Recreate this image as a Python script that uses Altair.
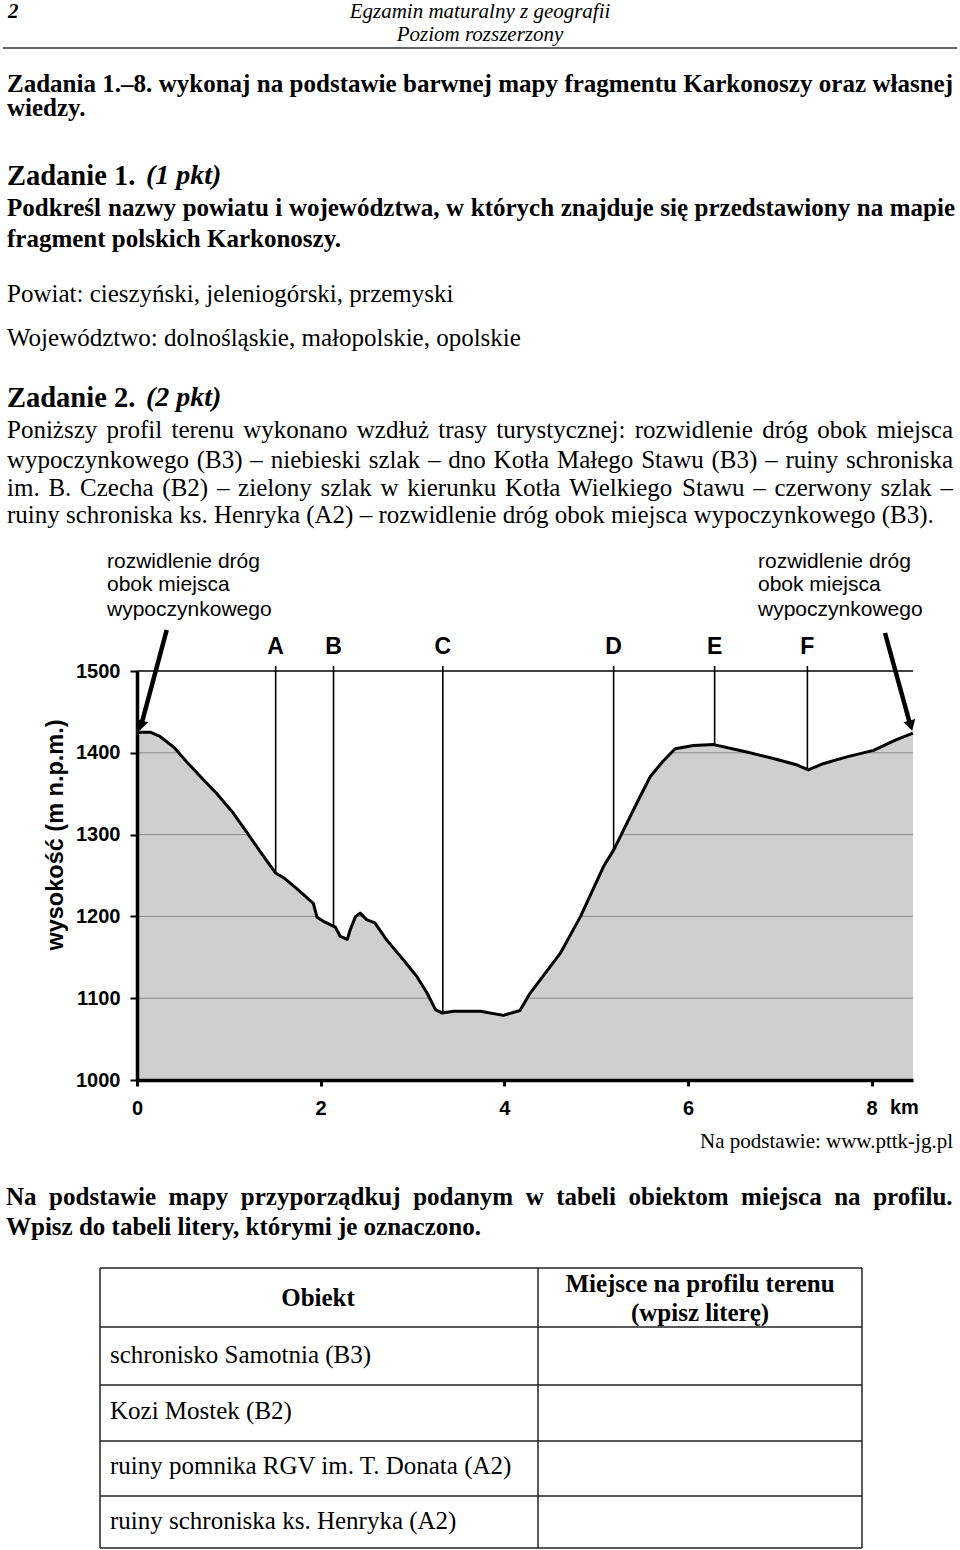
import altair as alt
import pandas as pd

# ---------------- data ----------------
profile_km = [0.00, 0.15, 0.25, 0.40, 0.54, 0.69, 0.87, 1.05, 1.20, 1.38, 1.51, 1.60,
              1.74, 1.92, 1.96, 2.03, 2.16, 2.21, 2.29, 2.32, 2.38, 2.43, 2.50, 2.59,
              2.72, 2.90, 3.05, 3.16, 3.25, 3.32, 3.45, 3.74, 3.99, 4.17, 4.28, 4.61,
              4.83, 5.08, 5.19, 5.26, 5.44, 5.59, 5.73, 5.86, 6.06, 6.28, 6.64, 6.93,
              7.19, 7.31, 7.48, 7.73, 8.02, 8.27, 8.45]
profile_elev = [1425, 1425, 1420, 1407, 1389, 1371, 1350, 1326, 1302, 1273, 1253, 1247,
                1234, 1216, 1199, 1194, 1187, 1176, 1172, 1183, 1200, 1204, 1196, 1192,
                1171, 1147, 1126, 1106, 1086, 1082, 1084, 1084, 1079, 1085, 1106, 1155,
                1200, 1261, 1281, 1297, 1338, 1371, 1390, 1405, 1409, 1410, 1401, 1393,
                1385, 1379, 1387, 1395, 1403, 1416, 1424]
marker_letters = ["A", "B", "C", "D", "E", "F"]
marker_km = [1.51, 2.14, 3.33, 5.19, 6.29, 7.30]
marker_elev = [1253, 1188, 1082, 1281, 1410, 1379]
y_ticks = [1000, 1100, 1200, 1300, 1400, 1500]
x_ticks = [0, 2, 4, 6, 8]
grid_vals = [1100, 1200, 1300, 1400]
KM_MAX = 8.45
ELEV_MIN, ELEV_MAX = 1000, 1500

table_rows = ["schronisko Samotnia (B3)", "Kozi Mostek (B2)",
              "ruiny pomnika RGV im. T. Donata (A2)", "ruiny schroniska ks. Henryka (A2)"]

# ---------------- layout ----------------
X0, Y0 = 137, 671          # plot origin on the page
W, H = 776, 409            # plot area
kx = W / KM_MAX
ey = H / (ELEV_MAX - ELEV_MIN)


def to_km(X):
    return (X - X0) / kx


def to_elev(Y):
    return ELEV_MAX - (Y - Y0) / ey


xs = alt.Scale(domain=[0, KM_MAX], nice=False, zero=False)
ys = alt.Scale(domain=[ELEV_MIN, ELEV_MAX], nice=False, zero=False)

SERIF = "Liberation Serif"
SANS = "Liberation Sans"

# Times-compatible advance widths (per 1000 em), used only to justify lines
_REG = dict(zip(" ():,-.", [250, 333, 333, 278, 250, 333, 250]))
_BOLD = dict(zip(" ():,-.", [250, 333, 333, 333, 250, 333, 250]))
_up = "ABCDEFGHIJKLMNOPQRSTUVWXYZ"
_lo = "abcdefghijklmnopqrstuvwxyz"
_REG.update(zip(_up, [722, 667, 667, 722, 611, 556, 722, 722, 333, 389, 722, 611, 889,
                      722, 722, 556, 722, 667, 556, 611, 722, 722, 944, 722, 722, 611]))
_REG.update(zip(_lo, [444, 500, 444, 500, 444, 333, 500, 500, 278, 278, 500, 278, 778,
                      500, 500, 500, 500, 333, 389, 278, 500, 500, 722, 500, 500, 444]))
_BOLD.update(zip(_up, [722, 667, 722, 722, 667, 611, 778, 778, 389, 500, 778, 667, 944,
                       722, 778, 611, 778, 722, 556, 667, 722, 722, 1000, 722, 722, 667]))
_BOLD.update(zip(_lo, [500, 556, 444, 556, 444, 333, 500, 556, 278, 333, 556, 278, 833,
                       556, 500, 556, 556, 444, 389, 333, 556, 500, 722, 500, 500, 444]))
_MAP = {"ą": "a", "ę": "e", "ć": "c", "ł": "l", "ń": "n", "ó": "o", "ś": "s", "ź": "z",
        "ż": "z", "Ł": "L", "Ś": "S", "Ż": "Z"}


def tw(s, table, size):
    return sum(table.get(_MAP.get(c, c), 500) for c in s) / 1000 * size


def justify(line, left, right, y, table, size):
    words = line.split(" ")
    widths = [tw(w, table, size) for w in words]
    gap = (right - left - sum(widths)) / (len(words) - 1)
    rows, x = [], left
    for w, wd in zip(words, widths):
        rows.append((x, y, w))
        x += wd + gap
    return rows


def text_layer(rows, font, size, weight="normal", style="normal", align="left", angle=0):
    df = pd.DataFrame(rows, columns=["X", "Y", "t"])
    df["x"] = df["X"].map(to_km)
    df["y"] = df["Y"].map(to_elev)
    return alt.Chart(df).mark_text(
        font=font, fontSize=size, fontWeight=weight, fontStyle=style,
        align=align, baseline="middle", angle=angle, color="black"
    ).encode(x=alt.X("x:Q", scale=xs), y=alt.Y("y:Q", scale=ys), text="t:N")


def rule_layer(rows, width, color="black"):
    df = pd.DataFrame(rows, columns=["X1", "Y1", "X2", "Y2"])
    df["x"] = df["X1"].map(to_km)
    df["x2"] = df["X2"].map(to_km)
    df["y"] = df["Y1"].map(to_elev)
    df["y2"] = df["Y2"].map(to_elev)
    return alt.Chart(df).mark_rule(color=color, strokeWidth=width, strokeCap="butt").encode(
        x=alt.X("x:Q", scale=xs), x2="x2:Q", y=alt.Y("y:Q", scale=ys), y2="y2:Q")


prof = pd.DataFrame({"km": profile_km, "elev": profile_elev})

x_axis = alt.Axis(values=x_ticks, format="d", title=None, grid=False, labelFont=SANS,
                  labelFontWeight="bold", labelFontSize=20, labelColor="black",
                  domainColor="black", domainWidth=3.5, tickColor="black",
                  tickWidth=3, tickSize=6, labelPadding=12, labelFlush=False,
                  labelOverlap=False, zindex=1)
y_axis = alt.Axis(values=y_ticks, format="d", title=None, grid=False, labelFont=SANS,
                  labelFontWeight="bold", labelFontSize=20, labelColor="black",
                  domainColor="black", domainWidth=3.5, tickColor="black",
                  tickWidth=2, tickSize=7, labelPadding=10, labelFlush=False,
                  labelOverlap=False, zindex=1)

gray = alt.Chart(prof).mark_area(color="#cfcfcf", opacity=1).encode(
    x=alt.X("km:Q", scale=xs, axis=x_axis),
    y=alt.Y("elev:Q", scale=ys, axis=y_axis),
    y2=alt.datum(ELEV_MIN))

grid = alt.Chart(pd.DataFrame({"g": grid_vals})).mark_rule(
    color="#8a8a8a", strokeWidth=1).encode(
    y=alt.Y("g:Q", scale=ys), x=alt.value(0), x2=alt.value(W))

white = alt.Chart(prof).mark_area(color="white", opacity=1).encode(
    x=alt.X("km:Q", scale=xs), y=alt.Y("elev:Q", scale=ys), y2=alt.datum(ELEV_MAX))

top_line = alt.Chart(pd.DataFrame({"g": [ELEV_MAX]})).mark_rule(
    color="black", strokeWidth=1.5).encode(
    y=alt.Y("g:Q", scale=ys), x=alt.value(0), x2=alt.value(W))

mk = pd.DataFrame({"letter": marker_letters, "km": marker_km, "end": marker_elev,
                   "top": [to_elev(666)] * len(marker_km)})
marker_rules = alt.Chart(mk).mark_rule(color="black", strokeWidth=1.6).encode(
    x=alt.X("km:Q", scale=xs), y=alt.Y("top:Q", scale=ys), y2="end:Q")
marker_text = alt.Chart(mk).mark_text(
    font=SANS, fontWeight="bold", fontSize=23, baseline="middle", color="black").encode(
    x=alt.X("km:Q", scale=xs), y=alt.value(646.7 - Y0), text="letter:N")

line = alt.Chart(prof).mark_line(color="black", strokeWidth=3, strokeJoin="round").encode(
    x=alt.X("km:Q", scale=xs), y=alt.Y("elev:Q", scale=ys))

# arrows
arrows = rule_layer([(166.7, 630, 141.5, 724), (885, 633, 910, 724)], 4.5)


def head(X, Y, ang):
    df = pd.DataFrame({"x": [to_km(X)], "y": [to_elev(Y)]})
    return alt.Chart(df).mark_point(shape="triangle", filled=True, size=150, angle=ang,
                                    color="black", opacity=1).encode(
        x=alt.X("x:Q", scale=xs), y=alt.Y("y:Q", scale=ys))


head_l = head(141.3, 724, 195)
head_r = head(910.3, 724, 164)

# chart annotations
ann = text_layer([
    (107, 562, "rozwidlenie dróg"), (107, 585, "obok miejsca"), (107, 610, "wypoczynkowego"),
    (758, 562, "rozwidlenie dróg"), (758, 585, "obok miejsca"), (758, 610, "wypoczynkowego"),
], SANS, 21)
km_lbl = text_layer([(890, 1108, "km")], SANS, 20, weight="bold")
y_title = text_layer([(56, 835, "wysokość (m n.p.m.)")], SANS, 23.5, weight="bold", align="center", angle=270)
source = text_layer([(953, 1142, "Na podstawie: www.pttk-jg.pl")], SERIF, 21, align="right")

# page text
hdr = text_layer([(480, 12, "Egzamin maturalny z geografii"), (480, 35, "Poziom rozszerzony")],
                 SERIF, 21, style="italic", align="center")
page_no = text_layer([(8, 12, "2")], SERIF, 21, weight="bold", style="italic")
hdr_line = rule_layer([(3, 48, 957, 48)], 1.5, "#333333")

FS = 25
bold_rows = (
    justify("Zadania 1.–8. wykonaj na podstawie barwnej mapy fragmentu Karkonoszy oraz własnej",
            7, 953, 84, _BOLD, FS)
    + [(7, 108, "wiedzy.")]
    + justify("Podkreśl nazwy powiatu i województwa, w których znajduje się przedstawiony na mapie",
              7, 955, 208, _BOLD, FS)
    + [(7, 239, "fragment polskich Karkonoszy.")]
    + justify("Na podstawie mapy przyporządkuj podanym w tabeli obiektom miejsca na profilu.",
              6, 953, 1197, _BOLD, FS)
    + [(6, 1227, "Wpisz do tabeli litery, którymi je oznaczono.")]
)
bold_left = text_layer(bold_rows, SERIF, FS, weight="bold")
bold_center = text_layer([
    (318, 1298, "Obiekt"), (700, 1284, "Miejsce na profilu terenu"), (700, 1313, "(wpisz literę)"),
], SERIF, FS, weight="bold", align="center")
big_bold = text_layer([(7, 176, "Zadanie 1."), (7, 398, "Zadanie 2.")], SERIF, 28.5, weight="bold")
big_bi = text_layer([(146, 176, "(1 pkt)"), (146, 398, "(2 pkt)")], SERIF, 28, weight="bold", style="italic")

reg_rows = (
    [(7, 294, "Powiat: cieszyński, jeleniogórski, przemyski"),
     (7, 338, "Województwo: dolnośląskie, małopolskie, opolskie")]
    + justify("Poniższy profil terenu wykonano wzdłuż trasy turystycznej: rozwidlenie dróg obok miejsca",
              7, 953, 430, _REG, FS)
    + justify("wypoczynkowego (B3) – niebieski szlak – dno Kotła Małego Stawu (B3) – ruiny schroniska",
              7, 953, 460, _REG, FS)
    + justify("im. B. Czecha (B2) – zielony szlak w kierunku Kotła Wielkiego Stawu – czerwony szlak –",
              7, 953, 488, _REG, FS)
    + [(7, 515, "ruiny schroniska ks. Henryka (A2) – rozwidlenie dróg obok miejsca wypoczynkowego (B3).")]
    + [(110, 1355, table_rows[0]), (110, 1411, table_rows[1]),
       (110, 1466, table_rows[2]), (110, 1521, table_rows[3])]
)
reg_left = text_layer(reg_rows, SERIF, FS)

# table grid
t_h = [1268, 1327, 1385, 1441, 1496, 1548]
table_lines = rule_layer(
    [(100, y, 862, y) for y in t_h] + [(x, 1268, x, 1548) for x in (100, 538, 862)], 1.5, "#222222")

chart = alt.layer(
    gray, grid, white, top_line, marker_rules, line, marker_text,
    arrows, head_l, head_r, ann, km_lbl, y_title, source,
    hdr, page_no, hdr_line, bold_left, bold_center, big_bold, big_bi,
    reg_left, table_lines
).properties(
    width=W, height=H,
    padding={"left": X0, "top": Y0, "right": 960 - X0 - W, "bottom": 1550 - Y0 - H},
    autosize=alt.AutoSizeParams(type="none"),
    background="white",
).configure_view(stroke=None)

chart.save("out.html", embed_options={"renderer": "svg", "actions": False})
